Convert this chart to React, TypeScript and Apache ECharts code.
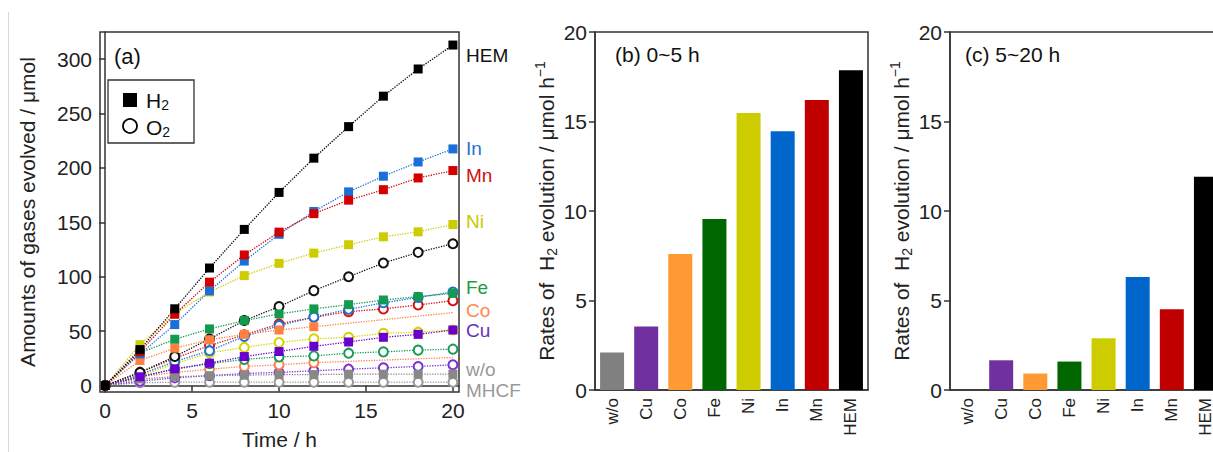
import React, { useEffect, useRef } from 'react';
import * as echarts from 'echarts';

const TIMES = [0, 2, 4, 6, 8, 10, 12, 14, 16, 18, 20];

const HEM_H2 = [0, 33, 70.5, 108, 143.5, 177.5, 209, 238, 266, 291, 313];
const HEM_O2 = [0, 12, 26.6, 42.8, 59.7, 72.5, 87.2, 100, 112.6, 122.4, 130.3];
const IN_H2 = [0, 29, 56, 87, 114.4, 139, 160, 178, 192.4, 205.5, 217.5];
const IN_O2 = [0, 10, 22, 32, 45, 55, 63, 70, 76, 81, 86];
const MN_H2 = [0, 31, 65.5, 95, 120, 141, 158, 170.4, 180, 190.8, 197.6];
const MN_O2 = [0, 12, 25, 36.7, 46.5, 56.6, 62.7, 67.9, 70.4, 74, 78];
const NI_H2 = [0, 37.5, 66, 86, 101, 112.3, 121.7, 129.4, 136.7, 141.3, 148];
const NI_O2 = [0, 9, 20, 30, 35, 39.5, 43, 44.3, 48, 49, 51];
const FE_H2 = [0, 30, 42.5, 52, 59.7, 65.8, 70.4, 74.3, 78.6, 81.7, 84.7];
const FE_O2 = [0, 8, 15, 20, 24, 26.3, 27.2, 29.7, 30.9, 32.5, 33.4];
// Co: measured up to 12 h, then a dotted line to the 20 h value (no marker)
const CO_H2 = [0, 23, 34.3, 42, 47, 51, 54, null, null, null, 67];
const CO_O2 = [0, 8, 12, 15, 17.5, 19, 21, null, null, null, 25.7];
const CU_H2 = [0, 8, 15.3, 20.5, 26.6, 31.2, 36, 40, 44.3, 47, 51];
const CU_O2 = [0, 4, 7, 9, 11, 12, 13.5, 15, 16.2, 17.5, 19];
const WO_H2 = [0, 6, 8, 9, 9.5, 10, 10, 10.4, 10.4, 10.4, 10.4];
const WO_O2 = [0, 2.5, 3, 3, 3, 3, 3, 3, 3, 3, 3];

const X_TICKS = [0, 5, 10, 15, 20];
const Y_TICKS = [0, 50, 100, 150, 200, 250, 300];

const BAR_CATS = ['w/o', 'Cu', 'Co', 'Fe', 'Ni', 'In', 'Mn', 'HEM'];
const RATE_0_5 = [2.1, 3.55, 7.6, 9.55, 15.47, 14.45, 16.2, 17.86];
const RATE_5_20 = [0, 1.66, 0.92, 1.59, 2.89, 6.31, 4.51, 11.92];
const BAR_COLORS = ['#808080', '#7030A0', '#FF9933', '#006600', '#CCCC00', '#0066CC', '#C00000', '#000000'];

const FONT = 'Liberation Sans, Arial, sans-serif';
const AX = '#333';

function pts(vals: (number | null)[], endNoSymbol = false) {
  const out: any[] = [];
  vals.forEach((v, i) => {
    if (v === null) return;
    if (endNoSymbol && i === vals.length - 1) out.push({ value: [TIMES[i], v], symbol: 'none' });
    else out.push([TIMES[i], v]);
  });
  return out;
}

function lineSeries(name: string, vals: (number | null)[], color: string, h2: boolean, ext = false) {
  return {
    type: 'line',
    name,
    xAxisIndex: 0,
    yAxisIndex: 0,
    data: pts(vals, ext),
    symbol: h2 ? 'rect' : 'circle',
    symbolSize: 9,
    showAllSymbol: true,
    lineStyle: { color, width: 1.3, type: 'dotted' },
    itemStyle: h2
      ? { color, borderColor: color, borderWidth: 0 }
      : { color: '#fff', borderColor: color, borderWidth: 2 },
    z: h2 ? 3 : 2,
  };
}

export default function App() {
  const ref = useRef<HTMLDivElement>(null);
  useEffect(() => {
    document.body.style.margin = '0';
    const chart = echarts.init(ref.current!, null, { renderer: 'svg' });
    const catAxisX = (gi: number) => ({
      type: 'category',
      gridIndex: gi,
      data: BAR_CATS,
      axisLine: { show: true, lineStyle: { color: AX, width: 1.5 } },
      axisTick: { show: false },
      axisLabel: { rotate: 90, fontSize: 17, color: '#222', fontFamily: FONT, margin: 8 },
      splitLine: { show: false },
    });
    const rich = {
      n: { fontSize: 21, lineHeight: 26, verticalAlign: 'middle', fontFamily: FONT, color: '#222' },
      s: { fontSize: 14, lineHeight: 14, verticalAlign: 'bottom', fontFamily: FONT, color: '#222' },
      p: { fontSize: 14, lineHeight: 14, verticalAlign: 'top', fontFamily: FONT, color: '#222' },
    };
    const rateName = '{n|Rates of  H}{s|2}{n| evolution / μmol h}{p|−1}';
    const valAxisY = (gi: number) => ({
      type: 'value',
      gridIndex: gi,
      min: 0,
      max: 20,
      interval: 5,
      axisLine: { show: true, lineStyle: { color: AX, width: 1.5 } },
      axisTick: { show: true, inside: false, length: 6, lineStyle: { color: AX, width: 1.5 } },
      axisLabel: { fontSize: 21, color: '#222', fontFamily: FONT, margin: 8 },
      splitLine: { show: false },
      name: rateName,
      nameLocation: 'middle',
      nameGap: 36,
      nameRotate: 90,
      nameTextStyle: { rich },
    });

    const labels = [
      { t: 'HEM', y: 55, c: '#111' },
      { t: 'In', y: 148, c: '#1f6fd1' },
      { t: 'Mn', y: 175, c: '#cc1111' },
      { t: 'Ni', y: 221, c: '#c9c900' },
      { t: 'Fe', y: 287, c: '#1f9a3f' },
      { t: 'Co', y: 310, c: '#ff8a4c' },
      { t: 'Cu', y: 330, c: '#6a2cc0' },
      { t: 'w/o', y: 369, c: '#999' },
      { t: 'MHCF', y: 390, c: '#999' },
    ];

    chart.setOption({
      animation: false,
      backgroundColor: '#fff',
      textStyle: { fontFamily: FONT },
      grid: [
        { left: 100, top: 32, width: 359, height: 360, show: true, borderColor: AX, borderWidth: 1.5, outerBoundsMode: 'none' },
        { left: 595, top: 32, width: 273, height: 358, show: true, borderColor: AX, borderWidth: 1.5, outerBoundsMode: 'none' },
        { left: 950, top: 32, width: 273, height: 358, show: true, borderColor: AX, borderWidth: 1.5, outerBoundsMode: 'none' },
      ],
      xAxis: [
        {
          type: 'value',
          gridIndex: 0,
          min: -0.3,
          max: 20.35,
          axisLine: { show: true, lineStyle: { color: AX, width: 1.5 } },
          axisTick: { show: true, inside: false, length: 6, customValues: X_TICKS, lineStyle: { color: AX, width: 1.5 } },
          axisLabel: { customValues: X_TICKS, fontSize: 21, color: '#222', fontFamily: FONT, margin: 8 },
          splitLine: { show: false },
          name: 'Time / h',
          nameLocation: 'middle',
          nameGap: 37,
          nameTextStyle: { fontSize: 21, color: '#222', fontFamily: FONT },
        },
        catAxisX(1),
        catAxisX(2),
      ],
      yAxis: [
        {
          type: 'value',
          gridIndex: 0,
          min: -6,
          max: 325,
          axisLine: { show: true, lineStyle: { color: AX, width: 1.5 } },
          axisTick: { show: true, inside: false, length: 6, customValues: Y_TICKS, lineStyle: { color: AX, width: 1.5 } },
          axisLabel: { customValues: Y_TICKS, fontSize: 21, color: '#222', fontFamily: FONT, margin: 8 },
          splitLine: { show: false },
          name: 'Amounts of gases evolved / μmol',
          nameLocation: 'middle',
          nameGap: 62,
          nameTextStyle: { fontSize: 21, color: '#222', fontFamily: FONT },
        },
        valAxisY(1),
        valAxisY(2),
      ],
      series: [
        lineSeries('w/o MHCF O2', WO_O2, '#999999', false),
        lineSeries('w/o MHCF H2', WO_H2, '#888888', true),
        lineSeries('Cu O2', CU_O2, '#7b2fd6', false),
        lineSeries('Co O2', CO_O2, '#ff7f50', false, true),
        lineSeries('Fe O2', FE_O2, '#1a9a55', false),
        lineSeries('Ni O2', NI_O2, '#d4d400', false),
        lineSeries('Mn O2', MN_O2, '#d41010', false),
        lineSeries('In O2', IN_O2, '#1a6fd8', false),
        lineSeries('Cu H2', CU_H2, '#6a00d0', true),
        lineSeries('Co H2', CO_H2, '#ff8040', true, true),
        lineSeries('Fe H2', FE_H2, '#149a4f', true),
        lineSeries('HEM O2', HEM_O2, '#111111', false),
        lineSeries('Ni H2', NI_H2, '#cccc00', true),
        lineSeries('In H2', IN_H2, '#1a6fd8', true),
        lineSeries('Mn H2', MN_H2, '#d40000', true),
        lineSeries('HEM H2', HEM_H2, '#000000', true),
        {
          type: 'bar',
          xAxisIndex: 1,
          yAxisIndex: 1,
          barWidth: 24,
          data: RATE_0_5.map((v, i) => ({ value: v, itemStyle: { color: BAR_COLORS[i] } })),
        },
        {
          type: 'bar',
          xAxisIndex: 2,
          yAxisIndex: 2,
          barWidth: 24,
          data: RATE_5_20.map((v, i) => ({ value: v, itemStyle: { color: BAR_COLORS[i] } })),
        },
      ],
      graphic: [
        { type: 'line', shape: { x1: 8.5, y1: 12, x2: 8.5, y2: 452 }, style: { stroke: '#d8d8d8', lineWidth: 1 } },
        { type: 'text', x: 114, y: 56, style: { text: '(a)', fill: '#111', font: `22px ${FONT}`, verticalAlign: 'middle' } },
        { type: 'rect', shape: { x: 108, y: 80, width: 86, height: 63 }, style: { fill: '#fff', stroke: AX, lineWidth: 1.3 } },
        { type: 'rect', shape: { x: 123, y: 93, width: 14, height: 14 }, style: { fill: '#000' } },
        { type: 'circle', shape: { cx: 130, cy: 126, r: 7 }, style: { fill: '#fff', stroke: '#000', lineWidth: 1.8 } },
        {
          type: 'text', x: 146, y: 100,
          style: {
            text: '{n|H}{s|2}', verticalAlign: 'middle',
            rich: { n: { fontSize: 21, lineHeight: 24, fill: '#111', fontFamily: FONT }, s: { fontSize: 14, lineHeight: 14, verticalAlign: 'bottom', fill: '#111', fontFamily: FONT } },
          },
        },
        {
          type: 'text', x: 146, y: 127,
          style: {
            text: '{n|O}{s|2}', verticalAlign: 'middle',
            rich: { n: { fontSize: 21, lineHeight: 24, fill: '#111', fontFamily: FONT }, s: { fontSize: 14, lineHeight: 14, verticalAlign: 'bottom', fill: '#111', fontFamily: FONT } },
          },
        },
        ...labels.map((l) => ({
          type: 'text', x: 466, y: l.y,
          style: { text: l.t, fill: l.c, font: `19px ${FONT}`, verticalAlign: 'middle' },
        })),
        { type: 'text', x: 615, y: 54, style: { text: '(b) 0~5 h', fill: '#111', font: `21px ${FONT}`, verticalAlign: 'middle' } },
        { type: 'text', x: 965, y: 54, style: { text: '(c) 5~20 h', fill: '#111', font: `21px ${FONT}`, verticalAlign: 'middle' } },
      ],
    });
    return () => chart.dispose();
  }, []);
  return <div ref={ref} style={{ width: 1213, height: 452 }} />;
}
